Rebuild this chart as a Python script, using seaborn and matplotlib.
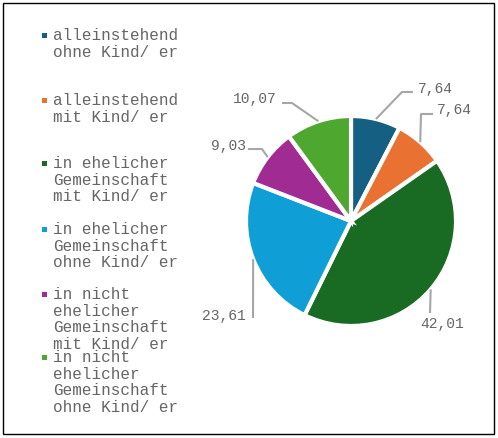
import matplotlib.pyplot as plt
import seaborn as sns
import numpy as np
from matplotlib.patches import Rectangle

# data
categories = [
    "alleinstehend\nohne Kind/ er",
    "alleinstehend\nmit Kind/ er",
    "in ehelicher\nGemeinschaft\nmit Kind/ er",
    "in ehelicher\nGemeinschaft\nohne Kind/ er",
    "in nicht\nehelicher\nGemeinschaft\nmit Kind/ er",
    "in nicht\nehelicher\nGemeinschaft\nohne Kind/ er",
]
values = [7.64, 7.64, 42.01, 23.61, 9.03, 10.07]
value_labels = ["7,64", "7,64", "42,01", "23,61", "9,03", "10,07"]
colors = ["#156082", "#E97132", "#196B24", "#0F9ED5", "#A02B93", "#4EA72E"]

sns.set_theme(style="white")
plt.rcParams['font.family'] = ['Liberation Mono', 'DejaVu Sans']

W, H = 498, 438
fig = plt.figure(figsize=(W / 100, H / 100), dpi=100)
ax = fig.add_axes([0, 0, 1, 1])

# pie centre / radius in pixels
cx, cy, R = 351, 221, 105

wedges, _ = ax.pie(values, colors=colors, startangle=90, counterclock=False,
                   radius=1.0, wedgeprops=dict(edgecolor="white", linewidth=3))
ax.set_xlim(-cx / R, (W - cx) / R)
ax.set_ylim((cy - H) / R, cy / R)
ax.set_aspect('auto')
ax.axis('off')


def px(x, y):
    return (x - cx) / R, (cy - y) / R


# leader line layout: elbow point, end point (pixels), text anchor, alignment
leaders = [
    ((402, 92), (413, 92), (418, 89), 'left'),
    ((421, 114), (433, 114), (437, 110), 'left'),
    ((430, 313), (430, 313), (442, 324), 'center'),
    ((253, 318), (253, 318), (246, 316), 'right'),
    ((262, 149), (248, 149), (246, 146), 'right'),
    ((292, 103), (282, 103), (277, 99), 'right'),
]

grey = "#A6A6A6"
txt = "#666666"
for w, lab, (elb, end, tpos, ha) in zip(wedges, value_labels, leaders):
    ang = np.deg2rad((w.theta1 + w.theta2) / 2)
    x0, y0 = np.cos(ang), np.sin(ang)
    ex, ey = px(*elb)
    nx, ny = px(*end)
    ax.plot([x0, ex, nx], [y0, ey, ny], color=grey, lw=1.5, solid_capstyle='butt')
    tx, ty = px(*tpos)
    ax.text(tx, ty, lab, ha=ha, va='center', fontsize=10.5, color=txt)

# legend drawn by hand (entries overlap in the original)
first_line_y = [35, 100, 163, 229, 294, 357]
for lab, col, y in zip(categories, colors, first_line_y):
    fig.text(53 / W, 1 - (y - 7) / H, lab, ha='left', va='top',
             fontsize=11.5, color=txt, linespacing=1.13)
    fig.add_artist(Rectangle((42 / W, 1 - (y + 3) / H), 5 / W, 5 / H,
                             transform=fig.transFigure, color=col, lw=0))

# outer frame
fig.add_artist(Rectangle((3 / W, 1 - 434 / H), 491 / W, 431 / H,
                         transform=fig.transFigure, fill=False,
                         edgecolor="black", lw=1))

plt.savefig("out.png", dpi=100)
